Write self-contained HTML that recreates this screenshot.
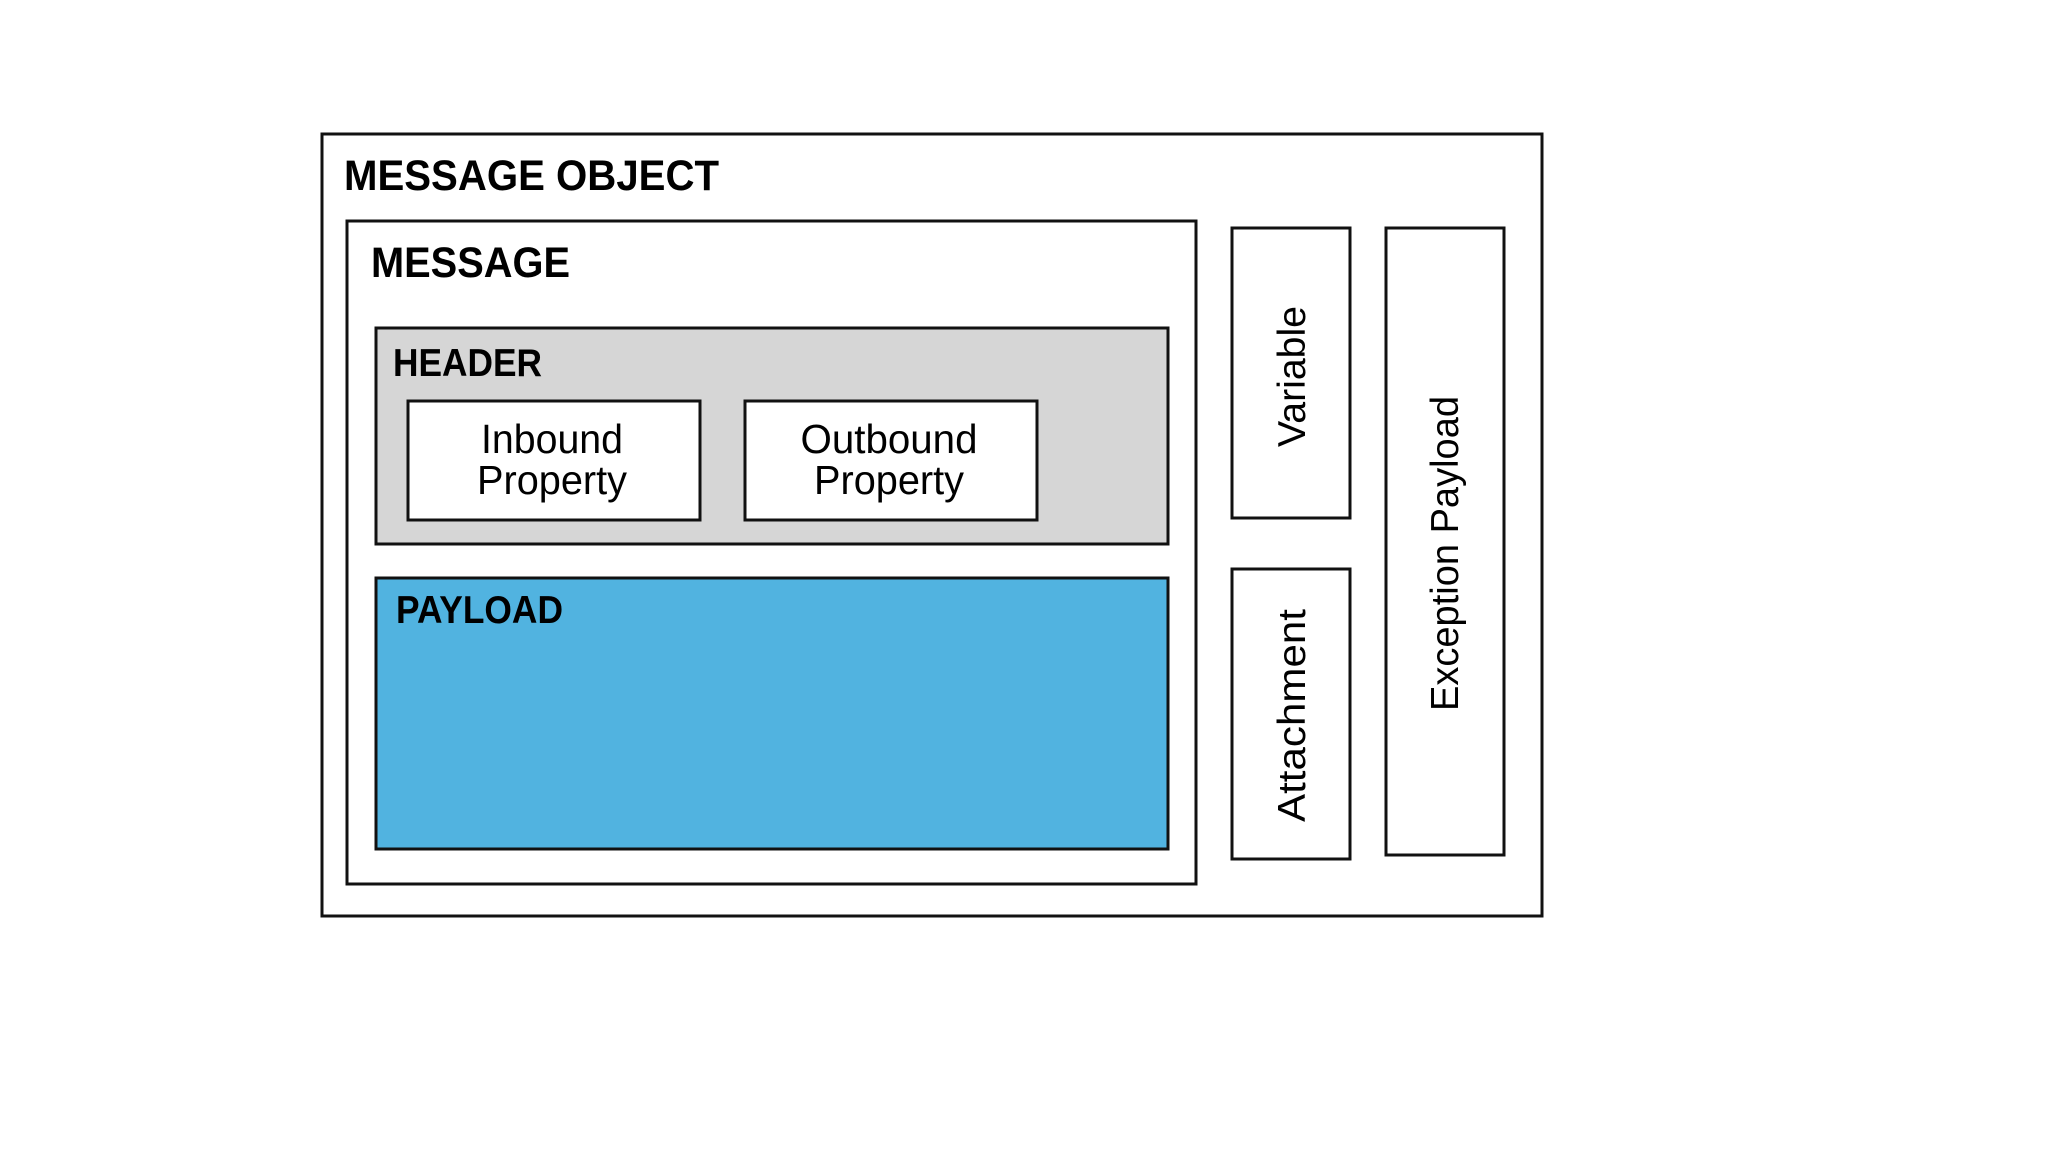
<!DOCTYPE html>
<html><head><meta charset="utf-8"><style>html,body{margin:0;padding:0;background:#fff}svg{display:block}</style></head>
<body>
<svg width="2048" height="1152" viewBox="0 0 2048 1152" xmlns="http://www.w3.org/2000/svg" font-family="'Liberation Sans', sans-serif" fill="#000">
<rect width="2048" height="1152" fill="#fff"/>
<rect x="322" y="134" width="1220" height="782" fill="#fff" stroke="#111" stroke-width="3"/>
<text x="344" y="190" font-size="43" font-weight="bold" textLength="375" lengthAdjust="spacingAndGlyphs">MESSAGE OBJECT</text>
<rect x="347" y="221" width="849" height="663" fill="#fff" stroke="#111" stroke-width="3"/>
<text x="371" y="277" font-size="43" font-weight="bold" textLength="199" lengthAdjust="spacingAndGlyphs">MESSAGE</text>
<rect x="376" y="328" width="792" height="216" fill="#d6d6d6" stroke="#111" stroke-width="3"/>
<text x="393" y="376" font-size="39" font-weight="bold" textLength="149" lengthAdjust="spacingAndGlyphs">HEADER</text>
<rect x="408" y="401" width="292" height="119" fill="#fff" stroke="#111" stroke-width="3"/>
<text x="552" y="453" font-size="41" text-anchor="middle" textLength="142" lengthAdjust="spacingAndGlyphs">Inbound</text>
<text x="552" y="494" font-size="41" text-anchor="middle" textLength="150" lengthAdjust="spacingAndGlyphs">Property</text>
<rect x="745" y="401" width="292" height="119" fill="#fff" stroke="#111" stroke-width="3"/>
<text x="889" y="453" font-size="41" text-anchor="middle" textLength="177" lengthAdjust="spacingAndGlyphs">Outbound</text>
<text x="889" y="494" font-size="41" text-anchor="middle" textLength="150" lengthAdjust="spacingAndGlyphs">Property</text>
<rect x="376" y="578" width="792" height="271" fill="#51b3e0" stroke="#111" stroke-width="3"/>
<text x="396" y="623" font-size="39" font-weight="bold" textLength="167" lengthAdjust="spacingAndGlyphs">PAYLOAD</text>
<rect x="1232" y="228" width="118" height="290" fill="#fff" stroke="#111" stroke-width="3"/>
<text transform="translate(1305,447) rotate(-90)" font-size="39" textLength="141" lengthAdjust="spacingAndGlyphs">Variable</text>
<rect x="1232" y="569" width="118" height="290" fill="#fff" stroke="#111" stroke-width="3"/>
<text transform="translate(1305,822) rotate(-90)" font-size="39" textLength="213" lengthAdjust="spacingAndGlyphs">Attachment</text>
<rect x="1386" y="228" width="118" height="627" fill="#fff" stroke="#111" stroke-width="3"/>
<text transform="translate(1458,711) rotate(-90)" font-size="39" textLength="315" lengthAdjust="spacingAndGlyphs">Exception Payload</text>
</svg>
</body></html>
